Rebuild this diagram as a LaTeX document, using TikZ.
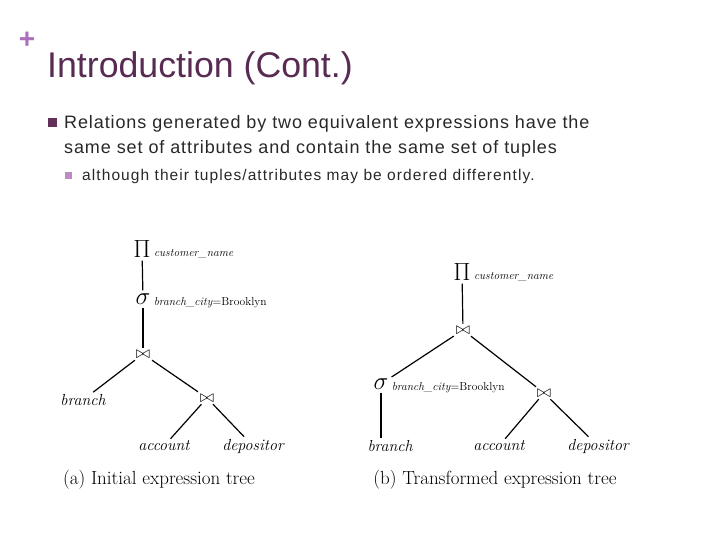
\documentclass[tikz,border=0pt]{standalone}
\usepackage{fontspec}
\setsansfont{Liberation Sans}
\usetikzlibrary{positioning}
\definecolor{titlepurple}{RGB}{88,44,82}
\definecolor{pluspurple}{RGB}{170,110,186}
\definecolor{bulletpurple}{RGB}{98,48,90}
\definecolor{subbullet}{RGB}{188,140,192}
\definecolor{bodytext}{RGB}{40,40,40}

\begin{document}
\begin{tikzpicture}[x=1pt, y=-1pt,
    op/.style={inner sep=3pt, font=\fontsize{23}{23}\selectfont},
    joinop/.style={inner sep=2pt, font=\fontsize{19}{19}\selectfont},
    rel/.style={inner sep=2pt, font=\fontsize{16}{16}\selectfont\itshape},
    sub/.style={inner sep=0pt, font=\fontsize{11.5}{12}\selectfont},
    capt/.style={font=\fontsize{19}{19}\selectfont},
    tree/.style={line width=1.2pt}]
    \useasboundingbox (0,0) rectangle (720,540);

    % slide header
    \node[text=pluspurple, font=\sffamily\bfseries\fontsize{28}{28}\selectfont, inner sep=0] (plus) at (27,40) {+};
    \node[anchor=base west, inner sep=0, text=titlepurple, font=\sffamily\fontsize{35.7}{36}\selectfont] (title) at (47,78) {Introduction (Cont.)};

    % bullets
    \node[fill=bulletpurple, minimum size=9pt, inner sep=0] (b1) at (52,123) {};
    \node[anchor=base west, inner sep=0, align=left, text=bodytext, font=\sffamily\fontsize{18}{25}\selectfont\addfontfeatures{LetterSpace=5}] (t1) at (64,154) {Relations generated by two equivalent expressions have the\\same set of attributes and contain the same set of tuples};
    \node[fill=subbullet, minimum size=7pt, inner sep=0] (b2) at (68,176) {};
    \node[anchor=base west, inner sep=0, text=bodytext, font=\sffamily\fontsize{15.5}{18}\selectfont\addfontfeatures{LetterSpace=7}] (t2) at (82,181) {although their tuples/attributes may be ordered differently.};

    % (a) initial tree
    \node[op] (pia) at (142,249) {$\Pi$};
    \node[sub, right=0pt of pia, yshift=-5pt] (pialbl) {\textit{customer\_name}};
    \node[op] (siga) at (143,299) {$\sigma$};
    \node[sub, right=0pt of siga, yshift=-4pt] (sigalbl) {\textit{branch\_city}=Brooklyn};
    \node[joinop] (joina) at (143,354) {$\bowtie$};
    \node[rel] (brancha) at (83,400) {branch};
    \node[joinop] (joina2) at (207,398) {$\bowtie$};
    \node[rel] (accounta) at (164,446) {account};
    \node[rel] (depositora) at (253,446) {depositor};
    \node[capt] (capta) at (159,480) {(a) Initial expression tree};

    \path[tree] (pia) edge (siga);
    \path[tree] (siga) edge (joina);
    \path[tree] (joina) edge (brancha);
    \path[tree] (joina) edge (joina2);
    \path[tree] (joina2) edge (accounta);
    \path[tree] (joina2) edge (depositora);

    % (b) transformed tree
    \node[op] (pib) at (462,272) {$\Pi$};
    \node[sub, right=0pt of pib, yshift=-5pt] (piblbl) {\textit{customer\_name}};
    \node[joinop] (joinb) at (463,330) {$\bowtie$};
    \node[op] (sigb) at (381,384) {$\sigma$};
    \node[sub, right=0pt of sigb, yshift=-4pt] (sigblbl) {\textit{branch\_city}=Brooklyn};
    \node[joinop] (joinb2) at (544,393) {$\bowtie$};
    \node[rel] (branchb) at (390,446) {branch};
    \node[rel] (accountb) at (499,446) {account};
    \node[rel] (depositorb) at (598,446) {depositor};
    \node[capt] (captb) at (495,480) {(b) Transformed expression tree};

    \path[tree] (pib) edge (joinb);
    \path[tree] (joinb) edge (sigb);
    \path[tree] (joinb) edge (joinb2);
    \draw[tree] (sigb.south) -- (branchb.north -| sigb.south);
    \path[tree] (joinb2) edge (accountb);
    \path[tree] (joinb2) edge (depositorb);
\end{tikzpicture}
\end{document}
